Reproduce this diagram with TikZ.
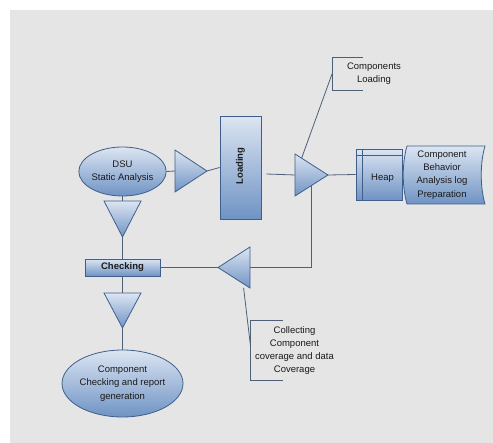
\documentclass[tikz,border=0pt]{standalone}
\usepackage{fontspec}
\setmainfont{Liberation Sans}
\usetikzlibrary{calc}
\definecolor{bgray}{HTML}{E5E5E5}
\definecolor{edge}{HTML}{3F5F8A}
\definecolor{wire}{HTML}{4E6078}
\definecolor{ftop}{HTML}{DCE5F2}
\definecolor{fbot}{HTML}{6F93C4}
\definecolor{ink}{HTML}{1A1A1A}
\tikzset{
  shade blue/.style={top color=ftop, bottom color=fbot, draw=edge, line width=0.8pt},
  holder/.style={draw=none, inner sep=0pt, outer sep=0pt},
  txt/.style={font=\fontsize{9.5}{13.3}\selectfont, text=ink, align=center, inner sep=0pt},
  ell/.style={ellipse, shade blue, inner sep=0pt, txt},
  boxy/.style={rectangle, shade blue, inner sep=0pt, txt},
  wireline/.style={draw=wire, line width=0.8pt},
}
\usetikzlibrary{shapes.geometric}
\begin{document}
\begin{tikzpicture}[x=1pt,y=-1pt]
\useasboundingbox (0,0) rectangle (493,443);
\fill[white] (0,0) rectangle (493,443);
\fill[bgray] (10,10) rectangle (493,443);

% main nodes
\node[ell, minimum width=75pt, minimum height=49pt] (dsu) at (122.5,171.5) {DSU\\Static Analysis};
\node[ell, minimum width=101pt, minimum height=67pt] (rep) at (122.5,383.5) {Component\\Checking and report\\generation};
\node[boxy, minimum width=41pt, minimum height=103pt] (load) at (240.5,167.5) {};
\node[txt, rotate=90, font=\fontsize{9.5}{13.3}\selectfont\bfseries] (loadtxt) at (240.5,166) {Loading};
\node[boxy, minimum width=75pt, minimum height=17pt, font=\fontsize{9.5}{13.3}\selectfont\bfseries] (chk) at (122.5,267.5) {Checking};
\node[boxy, minimum width=46pt, minimum height=51pt] (heap) at (379,174.5) {};
\draw[draw=edge, line width=0.8pt] ($(heap.north west)+(0,7)$) -- ($(heap.north east)+(0,7)$);
\draw[draw=edge, line width=0.8pt] ($(heap.north west)+(7,0)$) -- ($(heap.south west)+(7,0)$);
\node[txt] (heaptxt) at (382.5,178) {Heap};

% stored data shape
\node[holder, minimum width=82pt, minimum height=58pt] (store) at (444,175) {};
\path[shade blue] ($(store.north west)+(4,0)$) -- (store.north east)
  .. controls ($(store.east)+(-5,-12)$) and ($(store.east)+(-5,12)$) .. (store.south east)
  -- ($(store.south west)+(4,0)$)
  .. controls ($(store.west)+(-1,12)$) and ($(store.west)+(-1,-12)$) .. ($(store.north west)+(4,0)$) -- cycle;
\node[txt] (storetxt) at (442,175) {Component\\Behavior\\Analysis log\\Preparation};

% triangles
\node[holder, minimum width=32pt, minimum height=42pt] (t1) at (191,171) {};
\path[shade blue] (t1.north west) -- (t1.east) -- (t1.south west) -- cycle;
\node[holder, minimum width=33pt, minimum height=42pt] (t2) at (311.5,175) {};
\path[shade blue] (t2.north west) -- (t2.east) -- (t2.south west) -- cycle;
\node[holder, minimum width=32pt, minimum height=41pt] (t3) at (234,267.5) {};
\path[shade blue] (t3.north east) -- (t3.west) -- (t3.south east) -- cycle;
\node[holder, minimum width=37pt, minimum height=36pt] (d1) at (122.5,219) {};
\path[shade blue] (d1.north west) -- (d1.north east) -- (d1.south) -- cycle;
\node[holder, minimum width=37pt, minimum height=35pt] (d2) at (122.5,310.5) {};
\path[shade blue] (d2.north west) -- (d2.north east) -- (d2.south) -- cycle;

% connectors
\draw[wireline] (dsu.east) -- (t1.west);
\draw[wireline] (t1.east) -- (load.west);
\draw[wireline] ($(load.east)+(5,6.5)$) -- ($(t2.west)$);
\draw[wireline] (t2.east) -- (heap.west);
\draw[wireline] ($(t2.south west)!0.5!(t2.east)$) |- (t3.east);
\draw[wireline] (t3.west) -- (chk.east);
\draw[wireline] (dsu.south) -- (d1.north);
\draw[wireline] (d1.south) -- (chk.north);
\draw[wireline] (chk.south) -- (d2.north);
\draw[wireline] (d2.south) -- (rep.north);

% callouts
\node[txt] (cl1) at (374,73.5) {Components\\Loading};
\draw[wireline] (363,57) -- (332,57) -- (332,90) -- (363,90);
\coordinate (b1) at (332,74);
\draw[wireline] (b1) -- ($(t2.north west)!0.2!(t2.east)$);

\node[txt] (cl2) at (294.5,350.5) {Collecting\\Component\\coverage and data\\Coverage};
\draw[wireline] (283,320) -- (250.5,320) -- (250.5,380) -- (283,380);
\coordinate (b2) at (250.5,346);
\draw[wireline] (b2) -- ($(t3.south east)!0.2!(t3.west)+(0,4)$);
\end{tikzpicture}
\end{document}
